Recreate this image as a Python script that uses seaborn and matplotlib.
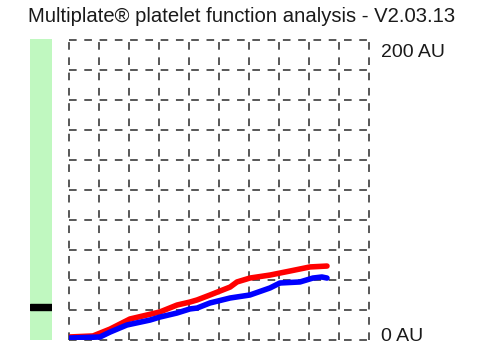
"""Recreate the Multiplate platelet function aggregation trace."""

import matplotlib

matplotlib.use("Agg")

import matplotlib.pyplot as plt
import numpy as np
import pandas as pd
import seaborn as sns

TITLE = "Multiplate\u00ae platelet function analysis - V2.03.13"

# time in grid divisions (10 divisions across the plot), aggregation in AU
RED_TIME = [0.0, 0.8, 1.37, 2.03, 3.03, 3.6, 4.03, 4.27, 4.7, 5.37, 5.6, 6.03, 6.7, 7.37, 8.03, 8.6]
RED_AU = [2.0, 2.7, 7.3, 14.0, 18.7, 23.3, 25.3, 26.7, 30.0, 35.3, 38.7, 41.3, 43.3, 46.0, 48.7, 49.3]

BLUE_TIME = [0.0, 1.03, 1.37, 1.93, 2.7, 3.03, 3.6, 4.03, 4.27, 4.7, 5.37, 6.03, 6.7, 7.03, 7.7, 8.13, 8.43, 8.6]
BLUE_AU = [1.3, 2.0, 5.3, 10.0, 13.3, 15.3, 18.0, 20.7, 21.3, 24.7, 28.0, 30.0, 34.7, 38.0, 38.7, 41.3, 42.0, 41.3]

RESULT_MARK_AU = 22.0
Y_MAX_AU = 200
GRID_STEPS = 10


def main() -> None:
    sns.set_theme(style="white")
    plt.rcParams["font.family"] = ["Liberation Sans", "DejaVu Sans"]

    fig = plt.figure(figsize=(4.79, 3.5), dpi=100)
    fig.patch.set_facecolor("white")

    ax = fig.add_axes([69 / 479, 10 / 350, 300 / 479, 300 / 350])
    bar_ax = fig.add_axes([30 / 479, 10 / 350, 22 / 479, 301 / 350])

    traces = pd.concat(
        [
            pd.DataFrame({"time": RED_TIME, "au": RED_AU, "channel": "red"}),
            pd.DataFrame({"time": BLUE_TIME, "au": BLUE_AU, "channel": "blue"}),
        ],
        ignore_index=True,
    )
    sns.lineplot(
        data=traces,
        x="time",
        y="au",
        hue="channel",
        palette={"red": "#ff0000", "blue": "#0000ff"},
        linewidth=4.0,
        legend=False,
        ax=ax,
    )

    ax.set_xlim(0, GRID_STEPS)
    ax.set_ylim(0, Y_MAX_AU)
    ax.set_xticks(np.arange(0, GRID_STEPS + 1))
    ax.set_yticks(np.arange(0, Y_MAX_AU + 1, Y_MAX_AU / GRID_STEPS))
    ax.grid(True, color="#2a2a2a", linestyle=(0, (5, 5)), linewidth=1.1)
    for line in ax.get_xgridlines() + ax.get_ygridlines():
        line.set_clip_on(False)
    ax.set_axisbelow(True)
    ax.tick_params(length=0, labelbottom=False, labelleft=False)
    for spine in ax.spines.values():
        spine.set_visible(False)
    ax.set_xlabel("")
    ax.set_ylabel("")

    ax.text(1.04, 0.957, f"{Y_MAX_AU} AU", transform=ax.transAxes, ha="left", va="center", fontsize=14, color="#1a1a1a")
    ax.text(1.04, 0.013, "0 AU", transform=ax.transAxes, ha="left", va="center", fontsize=14, color="#1a1a1a")

    bar_ax.set_facecolor("#c0f8c0")
    bar_ax.set_ylim(0, Y_MAX_AU)
    bar_ax.axhspan(RESULT_MARK_AU - 2, RESULT_MARK_AU + 2, color="black")
    bar_ax.set_xticks([])
    bar_ax.set_yticks([])
    for spine in bar_ax.spines.values():
        spine.set_visible(False)

    fig.text(242 / 479, 1 - 16 / 350, TITLE, ha="center", va="center", fontsize=14.6, color="#1a1a1a")

    fig.savefig("out.png", dpi=100)
    plt.close(fig)


if __name__ == "__main__":
    main()
